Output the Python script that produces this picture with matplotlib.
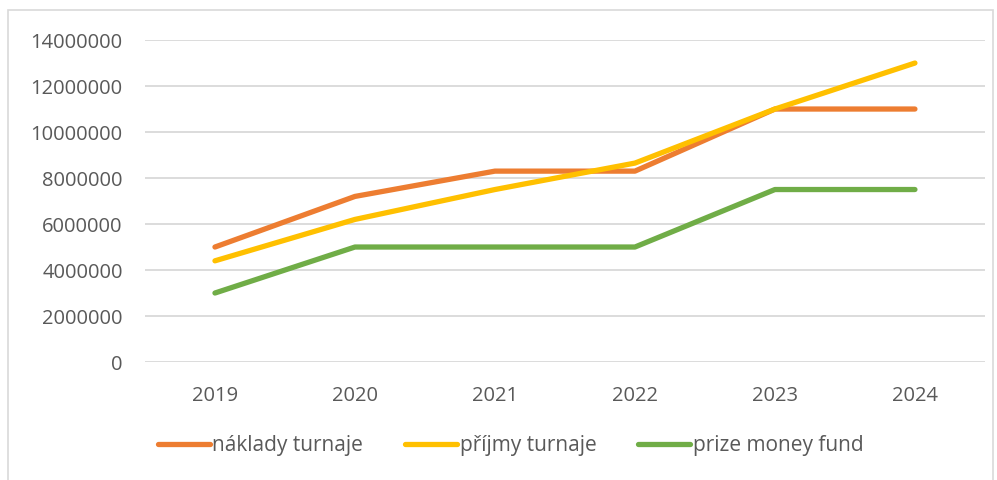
import matplotlib
matplotlib.use("Agg")
import matplotlib.pyplot as plt
from matplotlib.patches import Rectangle

years = ["2019", "2020", "2021", "2022", "2023", "2024"]
naklady = [5000000, 7200000, 8300000, 8300000, 11000000, 11000000]
prijmy = [4400000, 6200000, 7500000, 8650000, 11000000, 13000000]
prize = [3000000, 5000000, 5000000, 5000000, 7500000, 7500000]

plt.rcParams["font.family"] = ["Open Sans", "DejaVu Sans"]
TXT = "#595959"

fig = plt.figure(figsize=(9.97, 4.8), dpi=100)
ax = fig.add_axes([0.1454, 0.2458, 0.8425, 0.6708])

x = range(len(years))
series = [
    (naklady, "#ED7D31", "náklady turnaje"),
    (prijmy, "#FFC000", "příjmy turnaje"),
    (prize, "#70AD47", "prize money fund"),
]
for vals, col, lab in series:
    ax.plot(x, vals, color=col, lw=3.8, label=lab, solid_capstyle="round",
            solid_joinstyle="round")

ax.set_xlim(-0.5, 5.5)
ax.set_ylim(0, 14000000)
ax.set_yticks(range(0, 14000001, 2000000))
ax.set_yticklabels([str(v) for v in range(0, 14000001, 2000000)])
ax.set_xticks(list(x))
ax.set_xticklabels(years)
ax.grid(axis="y", color="#D9D9D9", lw=1.3)
ax.set_axisbelow(True)
for s in ax.spines.values():
    s.set_visible(False)
ax.tick_params(length=0, labelsize=14.5, labelcolor=TXT)
ax.tick_params(axis="x", pad=17)
ax.tick_params(axis="y", pad=16)

fig.legend(loc="center", bbox_to_anchor=(0.512, 0.071), ncol=3, frameon=False,
           fontsize=15, handlelength=2.5, handletextpad=0.12, columnspacing=2.0,
           labelcolor=TXT)

fig.patches.append(Rectangle((0.008, -0.01), 0.988, 0.989, transform=fig.transFigure,
                             fill=False, edgecolor="#D9D9D9", lw=1.2))

fig.savefig("out.png", dpi=100)
